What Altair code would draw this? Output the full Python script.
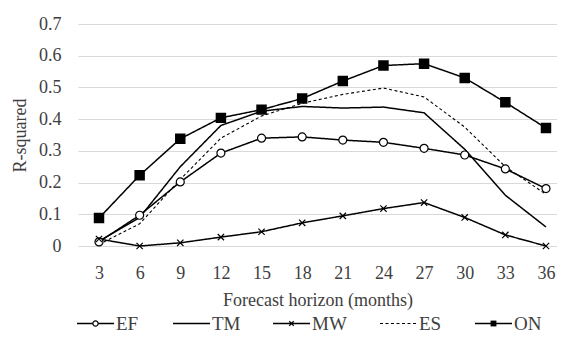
import altair as alt
import pandas as pd

horizons = [3, 6, 9, 12, 15, 18, 21, 24, 27, 30, 33, 36]
series_names = ["EF", "TM", "MW", "ES", "ON"]
ef = [0.013, 0.097, 0.202, 0.293, 0.340, 0.344, 0.334, 0.327, 0.308, 0.287, 0.243, 0.181]
tm = [0.015, 0.090, 0.250, 0.380, 0.425, 0.440, 0.435, 0.438, 0.420, 0.305, 0.160, 0.060]
mw = [0.022, 0.000, 0.010, 0.028, 0.045, 0.073, 0.095, 0.118, 0.137, 0.090, 0.035, 0.000]
es = [0.005, 0.070, 0.210, 0.340, 0.410, 0.450, 0.478, 0.498, 0.470, 0.375, 0.250, 0.163]
on = [0.088, 0.223, 0.338, 0.404, 0.430, 0.465, 0.520, 0.569, 0.575, 0.530, 0.453, 0.372]
y_ticks = [0, 0.1, 0.2, 0.3, 0.4, 0.5, 0.6, 0.7]

values = {"EF": ef, "TM": tm, "MW": mw, "ES": es, "ON": on}
rows = []
for s in series_names:
    for h, v in zip(horizons, values[s]):
        rows.append({"series": s, "h": h, "r2": v})
df = pd.DataFrame(rows)

# legend layout (pixels relative to plot area)
LEG_START = [-1, 95, 195, 302, 397]
LEG_LEN = 37
LEG_Y = 299.5
leg = pd.DataFrame({
    "series": series_names,
    "x0": LEG_START,
    "x1": [s + LEG_LEN for s in LEG_START],
    "xm": [s + LEG_LEN / 2 for s in LEG_START],
    "xt": [s + LEG_LEN + 2 for s in LEG_START],
})

FONT = "Liberation Serif, DejaVu Serif, serif"
TXT = "#404040"
W, H = 479, 222

dash_scale = alt.Scale(domain=series_names, range=[[1, 0], [1, 0], [1, 0], [3, 2.5], [1, 0]])

x_enc = alt.X("h:O", scale=alt.Scale(type="point", padding=0.394, align=0.656),
              axis=alt.Axis(title="Forecast horizon (months)", labelAngle=0, ticks=False,
                            domain=False, grid=False, labelPadding=18, titlePadding=9))
y_enc = alt.Y("r2:Q", scale=alt.Scale(domain=[0, 0.7], nice=False),
              axis=alt.Axis(title="R-squared", values=y_ticks, tickCount=8, ticks=False, domain=False,
                            labelExpr="datum.value == 0 ? '0' : format(datum.value, '.1f')",
                            labelPadding=17, titlePadding=9, gridColor="#d9d9d9"))

base = alt.Chart(df)
lines = base.mark_line(color="black").encode(
    x=x_enc, y=y_enc, detail="series:N",
    strokeDash=alt.StrokeDash("series:N", scale=dash_scale, legend=None),
    strokeWidth=alt.condition(alt.datum.series == "ES", alt.value(1.1), alt.value(1.5)),
)
ef_pts = base.transform_filter(alt.datum.series == "EF").mark_point(
    shape="circle", size=64, fill="white", stroke="black", strokeWidth=1.2, opacity=1
).encode(x=x_enc, y=y_enc)
mw_pts = base.transform_filter(alt.datum.series == "MW").mark_point(
    shape="M-1,-1L1,1M-1,1L1,-1", size=40, stroke="black", strokeWidth=1.2, opacity=1
).encode(x=x_enc, y=y_enc)
on_pts = base.transform_filter(alt.datum.series == "ON").mark_point(
    shape="square", size=72, fill="black", stroke="black", filled=True, opacity=1
).encode(x=x_enc, y=y_enc)

main = alt.layer(lines, ef_pts, mw_pts, on_pts)

lb = alt.Chart(leg)
lx = lambda f: alt.X(f, type="quantitative", scale=None, axis=None)
leg_lines = lb.mark_rule(color="black").encode(
    x=lx("x0"), x2="x1:Q", y=alt.value(LEG_Y),
    strokeDash=alt.StrokeDash("series:N", scale=dash_scale, legend=None),
    strokeWidth=alt.condition(alt.datum.series == "ES", alt.value(1.1), alt.value(1.5)),
)
leg_ef = lb.transform_filter(alt.datum.series == "EF").mark_point(
    shape="circle", size=28, fill="white", stroke="black", strokeWidth=1.2, opacity=1
).encode(x=lx("xm"), y=alt.value(LEG_Y))
leg_mw = lb.transform_filter(alt.datum.series == "MW").mark_point(
    shape="M-1,-1L1,1M-1,1L1,-1", size=20, stroke="black", strokeWidth=1.2, opacity=1
).encode(x=lx("xm"), y=alt.value(LEG_Y))
leg_on = lb.transform_filter(alt.datum.series == "ON").mark_point(
    shape="square", size=34, fill="black", filled=True, opacity=1
).encode(x=lx("xm"), y=alt.value(LEG_Y))
leg_txt = lb.mark_text(align="left", baseline="middle", font=FONT, fontSize=19, color=TXT).encode(
    x=lx("xt"), y=alt.value(LEG_Y), text="series:N")

legend = alt.layer(leg_lines, leg_ef, leg_mw, leg_on, leg_txt)

chart = alt.layer(main, legend).resolve_scale(x="independent").properties(
    width=W, height=H,
    autosize=alt.AutoSizeParams(type="none"),
    padding={"left": 70, "top": 16, "right": 0, "bottom": 87},
).configure_view(stroke=None).configure_axis(
    labelFont=FONT, titleFont=FONT, labelFontSize=18, titleFontSize=18,
    labelColor=TXT, titleColor=TXT, titleFontWeight="normal",
)

chart.save("out.html", embed_options={"renderer": "svg", "actions": False})
